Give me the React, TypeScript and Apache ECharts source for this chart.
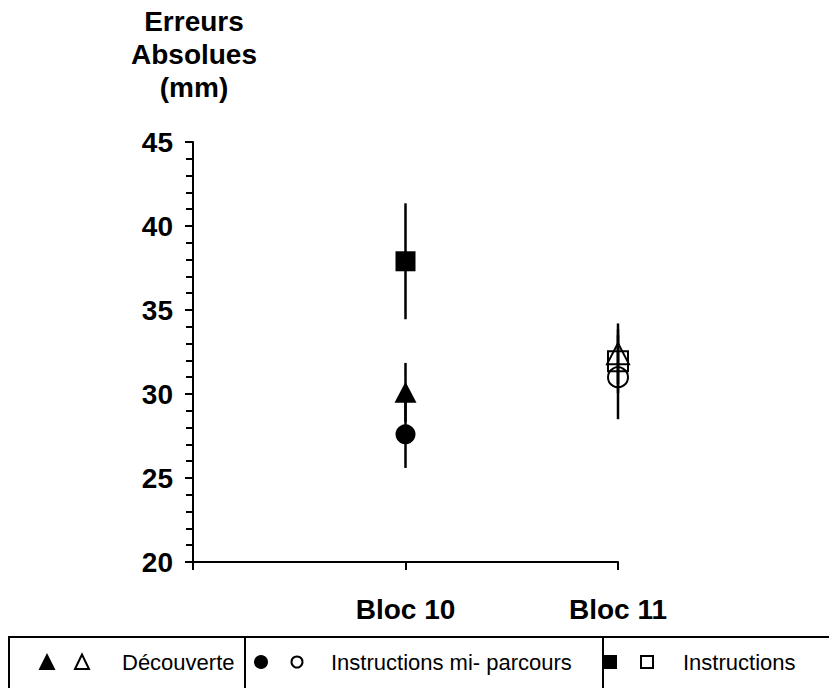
import React, { useEffect, useRef } from "react";
import * as echarts from "echarts";

const xLabels = ["", "Bloc 10", "Bloc 11"];
const blocPositions = [1, 2];

const decouverteMean = [30.1, 32.4];
const decouverteErr = [1.75, 1.8];
const miParcoursMean = [27.6, 31.0];
const miParcoursErr = [2.0, 2.5];
const instructionsMean = [37.9, 31.95];
const instructionsErr = [3.45, 1.9];

const legendNames = ["Découverte", "Instructions mi- parcours", "Instructions"];
const titleText = "Erreurs\nAbsolues\n(mm)";

const FONT = "Liberation Sans, Arial, Helvetica, sans-serif";

function pointData(means: number[]) {
  return blocPositions.map((x, i) => {
    const open = i === 1;
    return {
      value: [x, means[i]],
      itemStyle: open
        ? { color: "rgba(0,0,0,0)", borderColor: "#000", borderWidth: 2, opacity: 1 }
        : { color: "#000", borderColor: "#000", borderWidth: 0, opacity: 1 },
    };
  });
}

function errData(means: number[], errs: number[]) {
  return blocPositions.map((x, i) => [x, means[i] - errs[i], means[i] + errs[i]]);
}

function errSeries(name: string, means: number[], errs: number[]) {
  return {
    type: "custom",
    name: name + " err",
    data: errData(means, errs),
    z: 1,
    renderItem: (params: any, api: any) => {
      const x = api.value(0);
      const p1 = api.coord([x, api.value(1)]);
      const p2 = api.coord([x, api.value(2)]);
      return {
        type: "line",
        shape: { x1: p1[0], y1: p1[1], x2: p2[0], y2: p2[1] },
        style: { stroke: "#000", lineWidth: 2.5 },
      };
    },
  };
}

export default function App() {
  const ref = useRef<HTMLDivElement>(null);
  useEffect(() => {
    if (!ref.current) return;
    const chart = echarts.init(ref.current, null, { renderer: "svg" });
    const legendY = 662;
    const legendText = (text: string, x: number) => ({
      type: "text",
      x,
      y: legendY,
      style: { text, textVerticalAlign: "middle", fontFamily: FONT, fontSize: 22, fill: "#000" },
    });
    const option: any = {
      animation: false,
      backgroundColor: "#fff",
      grid: { left: 193, right: 211, top: 142, bottom: 126, containLabel: false },
      xAxis: {
        type: "value",
        min: 0,
        max: 2,
        interval: 1,
        splitLine: { show: false },
        axisLine: { onZero: false, lineStyle: { color: "#000", width: 2 } },
        axisTick: { show: true, length: 8, lineStyle: { color: "#000", width: 2 } },
        axisLabel: {
          formatter: (v: number) => xLabels[Math.round(v)] || "",
          color: "#000",
          fontFamily: FONT,
          fontWeight: "bold",
          fontSize: 28,
          margin: 33,
        },
      },
      yAxis: {
        type: "value",
        min: 20,
        max: 45,
        interval: 5,
        splitLine: { show: false },
        axisLine: { show: true, onZero: false, lineStyle: { color: "#000", width: 2 } },
        axisTick: { show: true, length: 8, lineStyle: { color: "#000", width: 2 } },
        minorTick: { show: true, splitNumber: 5, length: 7, lineStyle: { color: "#000", width: 2 } },
        axisLabel: {
          color: "#000",
          fontFamily: FONT,
          fontWeight: "bold",
          fontSize: 28,
          margin: 20,
        },
      },
      series: [
        errSeries(legendNames[0], decouverteMean, decouverteErr),
        errSeries(legendNames[1], miParcoursMean, miParcoursErr),
        errSeries(legendNames[2], instructionsMean, instructionsErr),
        {
          type: "scatter",
          name: legendNames[1],
          symbol: "circle",
          symbolSize: 20,
          z: 3,
          data: pointData(miParcoursMean),
        },
        {
          type: "scatter",
          name: legendNames[2],
          symbol: "rect",
          symbolSize: 20,
          z: 4,
          data: pointData(instructionsMean),
        },
        {
          type: "scatter",
          name: legendNames[0],
          symbol: "triangle",
          symbolSize: [22, 21],
          z: 5,
          data: pointData(decouverteMean),
        },
      ],
      graphic: [
        {
          type: "text",
          x: 194,
          y: 5,
          style: {
            text: titleText,
            textAlign: "center",
            textVerticalAlign: "top",
            fontFamily: FONT,
            fontWeight: "bold",
            fontSize: 28,
            lineHeight: 33,
            fill: "#000",
          },
        },
        {
          type: "rect",
          shape: { x: 9, y: 637, width: 840, height: 90 },
          style: { fill: "none", stroke: "#000", lineWidth: 2 },
        },
        { type: "line", shape: { x1: 245, y1: 637, x2: 245, y2: 700 }, style: { stroke: "#000", lineWidth: 2 } },
        { type: "line", shape: { x1: 603, y1: 637, x2: 603, y2: 700 }, style: { stroke: "#000", lineWidth: 2 } },
        {
          type: "polygon",
          shape: { points: [[47, legendY - 9], [38.5, legendY + 8], [55.5, legendY + 8]] },
          style: { fill: "#000" },
        },
        {
          type: "polygon",
          shape: { points: [[82, legendY - 7.5], [75, legendY + 7], [89, legendY + 7]] },
          style: { fill: "none", stroke: "#000", lineWidth: 2 },
        },
        { type: "circle", shape: { cx: 261, cy: legendY, r: 7 }, style: { fill: "#000" } },
        { type: "circle", shape: { cx: 297, cy: legendY, r: 5.5 }, style: { fill: "none", stroke: "#000", lineWidth: 2 } },
        { type: "rect", shape: { x: 604, y: legendY - 7, width: 13, height: 14 }, style: { fill: "#000" } },
        { type: "rect", shape: { x: 641, y: legendY - 6, width: 12, height: 12 }, style: { fill: "none", stroke: "#000", lineWidth: 2 } },
        legendText(legendNames[0], 122),
        legendText(legendNames[1], 331),
        legendText(legendNames[2], 683),
      ],
    };
    chart.setOption(option);
    return () => chart.dispose();
  }, []);
  return (
    <div
      ref={ref}
      style={{ position: "fixed", left: 0, top: 0, width: 829, height: 688, background: "#fff" }}
    />
  );
}
